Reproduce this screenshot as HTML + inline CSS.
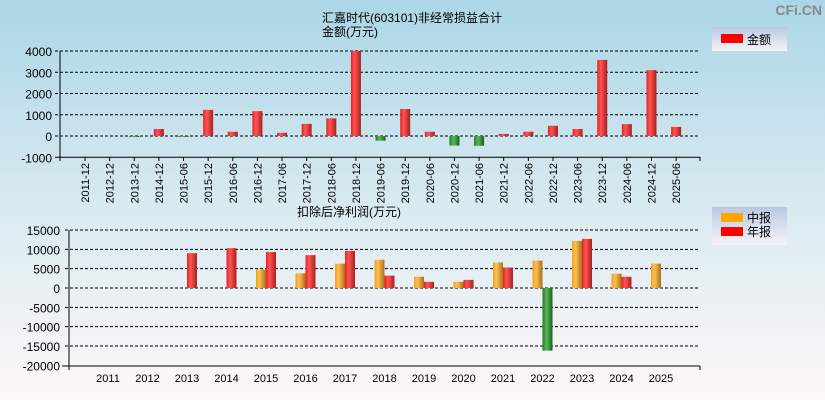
<!DOCTYPE html>
<html><head><meta charset="utf-8"><style>
body{margin:0;width:825px;height:400px;overflow:hidden;font-family:"Liberation Sans","Noto Sans CJK SC",sans-serif;}
svg{display:block}
</style></head><body>
<svg id="c" width="825" height="400" xmlns="http://www.w3.org/2000/svg">
<defs>
<linearGradient id="bg" x1="0" y1="0" x2="0" y2="1"><stop offset="0" stop-color="#abd6e6"/><stop offset="0.55" stop-color="#dcebf2"/><stop offset="1" stop-color="#fdf8f7"/></linearGradient>
<linearGradient id="gr" x1="0" x2="1"><stop offset="0" stop-color="#e82020"/><stop offset="0.35" stop-color="#ff5555"/><stop offset="1" stop-color="#a82020"/></linearGradient>
<linearGradient id="gg" x1="0" x2="1"><stop offset="0" stop-color="#1e7a1e"/><stop offset="0.4" stop-color="#5cb85c"/><stop offset="1" stop-color="#1a5f1a"/></linearGradient>
<linearGradient id="go" x1="0" x2="1"><stop offset="0" stop-color="#f0a020"/><stop offset="0.35" stop-color="#ffc050"/><stop offset="1" stop-color="#a87020"/></linearGradient>
<linearGradient id="lg" x1="0" y1="0" x2="0" y2="1"><stop offset="0" stop-color="#b9c8e2"/><stop offset="1" stop-color="#f4f4f8"/></linearGradient>
</defs>
<rect width="825" height="400" fill="url(#bg)"/>
<text x="822" y="15" font-size="14" font-weight="bold" fill="#8a8a8a" text-anchor="end">CFi.CN</text>
<text x="322" y="22" font-size="12">汇嘉时代(603101)非经常损益合计</text>
<text x="322" y="36" font-size="12">金额(万元)</text>
<text x="297" y="216" font-size="12">扣除后净利润(万元)</text>
<g>
<rect x="712" y="27" width="75" height="24" fill="url(#lg)"/>
<rect x="721" y="34" width="22" height="9" fill="#ff0000"/>
<text x="747" y="44" font-size="12">金额</text>
</g>
<g>
<rect x="712" y="207" width="75" height="38" fill="url(#lg)"/>
<rect x="721" y="213" width="22" height="9" fill="#ffa500"/>
<text x="747" y="222" font-size="12">中报</text>
<rect x="721" y="227" width="22" height="9" fill="#ff0000"/>
<text x="747" y="236" font-size="12">年报</text>
</g>
<g id="top"></g><g id="bot"></g>
</svg>
<script>
const topCats=["2011-12","2012-12","2013-12","2014-12","2015-06","2015-12","2016-06","2016-12","2017-06","2017-12","2018-06","2018-12","2019-06","2019-12","2020-06","2020-12","2021-06","2021-12","2022-06","2022-12","2023-06","2023-12","2024-06","2024-12","2025-06"];
const topVals=[0,0,-50,330,-30,1230,200,1170,150,570,830,4000,-220,1270,200,-450,-460,100,200,480,330,3580,560,3100,430];
const topTicks=[4000,3000,2000,1000,0,-1000];
const years=["2011","2012","2013","2014","2015","2016","2017","2018","2019","2020","2021","2022","2023","2024","2025"];
const interim=[null,null,null,null,4800,3800,6300,7300,2900,1600,6600,7100,12200,3700,6300];
const annual=[null,null,9000,10300,9300,8500,9600,3200,1600,2100,5300,-16200,12700,2900,null];
const botTicks=[15000,10000,5000,0,-5000,-10000,-15000,-20000];
const NS="http://www.w3.org/2000/svg";
function mk(p,t,a){const e=document.createElementNS(NS,t);for(const k in a)e.setAttribute(k,a[k]);p.appendChild(e);return e;}
// top chart
const T=document.getElementById('top');
const ty=v=>136-v*0.02125; const tx=i=>85+i*24.63;
topTicks.forEach(v=>{
 const l=mk(T,'line',{x1:55,x2:700,y1:ty(v),y2:ty(v),stroke:'#000','stroke-dasharray':v===-1000?'':'3,2'});
 
 
 const t=mk(T,'text',{x:52,y:ty(v)+5,'font-size':12,'text-anchor':'end'});t.textContent=v;
 
 
});
mk(T,'line',{x1:60,x2:60,y1:51,y2:157,stroke:'#000'});
mk(T,'line',{x1:60,x2:60,y1:157,y2:161,stroke:'#000'});
mk(T,'line',{x1:700,x2:700,y1:157,y2:161,stroke:'#000'});
topCats.forEach((c,i)=>{
 const x=tx(i),v=topVals[i];
 mk(T,'line',{x1:x,x2:x,y1:157,y2:161,stroke:'#000'});
 if(v!==0){const y0=ty(Math.max(v,0)),h=Math.abs(ty(v)-ty(0));
  const r=mk(T,'rect',{x:x-5,y:y0,width:10,height:Math.max(h,1),fill:v>0?'url(#gr)':'url(#gg)'});
  
  }
 const t=mk(T,'text',{x:0,y:0,'font-size':11,'text-anchor':'end',transform:`translate(${x+4},${163}) rotate(-90)`});t.textContent=c;
 
 
});
// bottom chart
const B=document.getElementById('bot');
const by=v=>288-v*0.003867; const bx=i=>108+i*39.5;
botTicks.forEach(v=>{
 if(v!==-20000){const l=mk(B,'line',{x1:65,x2:700,y1:by(v),y2:by(v),stroke:'#000','stroke-dasharray':'3,2'});
 
 }
 const t=mk(B,'text',{x:60,y:by(v)+5,'font-size':12,'text-anchor':'end'});t.textContent=v;
 
 
});
mk(B,'line',{x1:69,x2:69,y1:230,y2:366,stroke:'#000'});
mk(B,'line',{x1:62,x2:700,y1:366,y2:366,stroke:'#000'});
mk(B,'line',{x1:69,x2:69,y1:366,y2:370,stroke:'#000'});
mk(B,'line',{x1:700,x2:700,y1:366,y2:370,stroke:'#000'});
years.forEach((yr,i)=>{
 const x=bx(i);
 [[interim[i],-10,'url(#go)','interim'],[annual[i],0,'url(#gr)','annual']].forEach(([v,off,f,n])=>{
  if(v===null)return;
  const y0=by(Math.max(v,0)),h=Math.abs(by(v)-by(0));
  const r=mk(B,'rect',{x:x+off,y:y0,width:10,height:h,fill:v<0?'url(#gg)':f});
  
  
 });
 const t=mk(B,'text',{x:x,y:382,'font-size':11,'text-anchor':'middle'});t.textContent=yr;
 
 
});
</script>
</body></html>
